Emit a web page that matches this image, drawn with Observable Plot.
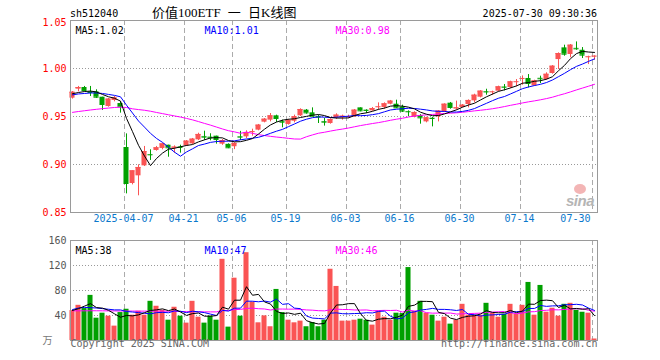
<!DOCTYPE html>
<html lang="zh-CN">
<head>
<meta charset="utf-8">
<script src="https://cdn.jsdelivr.net/npm/d3@7"></script>
<script src="https://cdn.jsdelivr.net/npm/@observablehq/plot@0.6"></script>
<style>
  html, body { margin: 0; padding: 0; background: #fff; }
  #chart { position: relative; width: 660px; height: 360px; overflow: hidden; background: #fff; }
  #chart svg { position: absolute; left: 0; }
  .lbl { position: absolute; white-space: pre; line-height: 1; z-index: 2; }
  .mono { font-family: "DejaVu Sans Mono", monospace; font-size: 10px; color: #000; }
</style>
</head>
<body>
<div id="chart"></div>
<script>
// ---------- data ----------
const stockCode = "sh512040";
const chartTitle = "价值100ETF 一 日K线图";
const stamp = "2025-07-30 09:30:36";

const openP = [0.9691,0.9785,0.9802,0.9757,0.9757,0.9701,0.9604,0.9667,0.9635,0.9177,
 0.8802,0.8882,0.8986,0.9104,0.9146,0.9167,0.9201,0.9170,0.9183,0.9194,
 0.9215,0.9257,0.9292,0.9285,0.9295,0.9212,0.9210,0.9185,0.9290,0.9288,
 0.9335,0.9358,0.9441,0.9462,0.9507,0.9448,0.9417,0.9451,0.9507,0.9566,
 0.9538,0.9500,0.9448,0.9427,0.9486,0.9486,0.9493,0.9497,0.9590,0.9566,
 0.9559,0.9597,0.9594,0.9628,0.9628,0.9600,0.9552,0.9493,0.9510,0.9444,
 0.9482,0.9497,0.9549,0.9639,0.9580,0.9594,0.9625,0.9663,0.9701,0.9760,
 0.9754,0.9764,0.9808,0.9802,0.9859,0.9893,0.9896,0.9819,0.9898,0.9885,
 0.9948,1.0093,1.0215,1.0146,1.0210,1.0190,1.0118,1.0124];
const closeP = [0.9753,0.9802,0.9771,0.9750,0.9701,0.9625,0.9681,0.9694,0.9601,0.8802,
 0.8934,0.8969,0.9135,0.9101,0.9174,0.9215,0.9174,0.9181,0.9178,0.9243,
 0.9264,0.9313,0.9285,0.9278,0.9260,0.9250,0.9174,0.9220,0.9285,0.9330,
 0.9342,0.9410,0.9472,0.9507,0.9479,0.9441,0.9458,0.9497,0.9573,0.9538,
 0.9503,0.9493,0.9441,0.9469,0.9514,0.9503,0.9500,0.9566,0.9559,0.9563,
 0.9583,0.9601,0.9632,0.9660,0.9590,0.9556,0.9549,0.9542,0.9486,0.9486,
 0.9479,0.9556,0.9628,0.9594,0.9590,0.9618,0.9667,0.9722,0.9764,0.9756,
 0.9757,0.9809,0.9805,0.9861,0.9862,0.9896,0.9844,0.9871,0.9893,0.9940,
 1.0024,1.0156,1.0149,1.0243,1.0205,1.0139,1.0122,1.0128];
const highP = [0.9760,0.9813,0.9813,0.9813,0.9778,0.9701,0.9688,0.9708,0.9653,0.9319,
 0.8934,0.8997,0.9188,0.9153,0.9188,0.9222,0.9201,0.9194,0.9201,0.9250,
 0.9271,0.9326,0.9347,0.9320,0.9295,0.9260,0.9215,0.9226,0.9345,0.9351,
 0.9368,0.9417,0.9479,0.9531,0.9514,0.9462,0.9469,0.9514,0.9580,0.9573,
 0.9590,0.9514,0.9480,0.9476,0.9528,0.9514,0.9514,0.9573,0.9590,0.9570,
 0.9594,0.9642,0.9642,0.9667,0.9670,0.9618,0.9559,0.9549,0.9520,0.9493,
 0.9490,0.9562,0.9632,0.9646,0.9660,0.9625,0.9673,0.9732,0.9770,0.9784,
 0.9764,0.9816,0.9833,0.9868,0.9885,0.9923,0.9937,0.9878,0.9920,0.9955,
 1.0030,1.0163,1.0243,1.0250,1.0277,1.0218,1.0128,1.0132];
const lowP = [0.9681,0.9757,0.9757,0.9708,0.9688,0.9563,0.9597,0.9653,0.9535,0.8694,
 0.8788,0.8674,0.8979,0.9042,0.9139,0.9153,0.9076,0.9118,0.9118,0.9188,
 0.9208,0.9250,0.9250,0.9247,0.9212,0.9200,0.9165,0.9155,0.9250,0.9270,
 0.9295,0.9351,0.9434,0.9444,0.9438,0.9382,0.9410,0.9434,0.9500,0.9524,
 0.9497,0.9427,0.9400,0.9420,0.9469,0.9462,0.9479,0.9490,0.9549,0.9531,
 0.9556,0.9566,0.9576,0.9622,0.9583,0.9542,0.9497,0.9486,0.9420,0.9434,
 0.9392,0.9444,0.9542,0.9576,0.9566,0.9590,0.9590,0.9642,0.9694,0.9722,
 0.9722,0.9757,0.9767,0.9791,0.9809,0.9826,0.9798,0.9816,0.9843,0.9878,
 0.9941,0.9989,1.0128,1.0111,1.0190,1.0104,1.0041,1.0087];
// volume in 万
const volume = [47.9,56.3,51.1,72.2,35.7,43.7,38.9,23.0,44.7,50.0,
 40.5,46.8,40.5,62.7,54.8,48.4,32.5,53.2,38.9,27.8,
 62.7,37.3,27.8,38.9,32.5,129.9,21.4,99.7,38.9,140.5,
 61.6,28.3,39.4,22.0,81.7,44.7,32.5,28.3,31.0,22.0,
 28.8,22.0,32.5,114.0,86.5,31.0,31.0,32.5,34.1,32.5,
 24.6,46.8,37.3,32.5,43.7,43.1,116.7,46.8,62.7,43.7,
 40.5,31.0,37.3,26.2,32.5,57.9,40.5,40.5,40.5,59.5,
 43.7,37.3,42.0,57.9,42.0,56.3,92.9,40.5,88.1,45.2,
 51.6,38.9,57.9,59.5,48.4,45.2,43.7,2.4];

// moving-average values at the left edge (windows reach before the first visible day)
const ma5Head = [0.9737,0.9750,0.9760,0.9765];
const ma10Head = [0.9725,0.9735,0.9740,0.9745,0.9745,0.9740,0.9730,0.9720,0.9705];
const ma30Head = [0.9543,0.9552,0.9560,0.9568,0.9575,0.9582,0.9588,0.9594,0.9597,0.9594,
 0.9580,0.9572,0.9565,0.9555,0.9542,0.9530,0.9518,0.9506,0.9494,0.9480,
 0.9465,0.9447,0.9428,0.9410,0.9390,0.9370,0.9352,0.9340,0.9325];
const vma5Head = [48,51,55,59];
const vma10Head = [49.5,52,53,52.5,52,51,50,49,49];
const vma30Head = [47.5,47.5,47.5,47.6,47.6,47.5,47.4,47.3,47.2,47.2,
 47.1,47,47,47,47,47,46.8,46.6,46.4,46.2,
 46,46,45.8,45.8,45.8,48,48,49.5,49.8];

const tickIndex = [9,19,27,36,46,55,65,75,87];
const tickLabels = ["2025-04-07","04-21","05-06","05-19","06-03","06-16","06-30","07-14","07-30"];
const priceTicks = [1.05,1.00,0.95,0.90,0.85];
const priceGrid = [1.00,0.95,0.90];
const volTicks = [160,120,80,40];
const volGrid = [120,80,40];
const volUnit = "万";
const priceLegend = ["MA5:1.02","MA10:1.01","MA30:0.98"];
const volLegend = ["MA5:38","MA10:47","MA30:46"];
const copyright = "Copyright 2025 SINA.COM";
const siteUrl = "http://finance.sina.com.cn";

// ---------- styling ----------
const RED = "#fa5454", GREEN = "#00a000";
const maColors = ["#000000","#0000ff","#ff00ff"];
const legendDx = [5,134,265];
const MONO = "DejaVu Sans Mono, monospace";

function movingAvg(values, k, head) {
  return values.map((v, i) => i < head.length ? head[i] : d3.mean(values.slice(i - k + 1, i + 1)));
}
const days = openP.map((o, i) => ({
  i, o, c: closeP[i], h: highP[i], l: lowP[i], v: volume[i],
  col: closeP[i] >= o ? RED : GREEN
}));
const toSeries = arr => arr.map((v, i) => ({i, v}));
const priceMA = [movingAvg(closeP,5,ma5Head), movingAvg(closeP,10,ma10Head), movingAvg(closeP,30,ma30Head)].map(toSeries);
const volMA = [movingAvg(volume,5,vma5Head), movingAvg(volume,10,vma10Head), movingAvg(volume,30,vma30Head)].map(toSeries);

const common = {
  width: 660, marginLeft: 70, marginRight: 63,
  x: {domain: [-1/3, 87.5], axis: null},
  color: {type: "identity"},
  style: {fontFamily: MONO, fontSize: "10px", background: "transparent", overflow: "visible"}
};
const gridDash = {stroke: "#aaaaaa", strokeDasharray: "5,3", strokeWidth: 1};
const gridDot = {stroke: "#999999", strokeDasharray: "1,2", strokeWidth: 1};
const maLines = series => [2,1,0].map(k => Plot.line(series[k], {x: "i", y: "v", stroke: maColors[k], strokeWidth: 1}));
const legendMarks = labels => labels.map((t, j) => Plot.text([t], {
  text: d => d, frameAnchor: "top-left", textAnchor: "start", dx: legendDx[j], dy: 6.5,
  fill: maColors[j], fontFamily: MONO, fontSize: 10
}));

const price = Plot.plot({
  ...common, height: 232, marginTop: 20, marginBottom: 20,
  y: {domain: [0.85, 1.05], axis: null},
  marks: [
    Plot.ruleY(priceGrid, {y: d => d, ...gridDot}),
    Plot.ruleX(tickIndex, {x: d => d - 0.33, ...gridDash}),
    Plot.ruleX(days, {x: "i", y1: "l", y2: "h", stroke: "col", strokeWidth: 1}),
    Plot.rect(days, {x1: d => d.i - 0.42, x2: d => d.i + 0.42, y1: "o", y2: "c", fill: "col"}),
    Plot.ruleY(days, {y: "c", x1: d => d.i - 0.42, x2: d => d.i + 0.42, stroke: "col", strokeWidth: 1}),
    ...maLines(priceMA),
    Plot.frame({stroke: "#9a9a9a", strokeWidth: 1}),
    Plot.text([priceTicks[0]], {y: d => d, text: d => d.toFixed(2), frameAnchor: "left", textAnchor: "end", dx: -4, dy: 2, fill: "#ff0000"}),
    Plot.text(priceTicks.slice(1), {y: d => d, text: d => d.toFixed(2), frameAnchor: "left", textAnchor: "end", dx: -4, fill: "#ff0000"}),
    Plot.text(tickIndex.slice(0, -1), {x: d => d - 0.5, text: (d, j) => tickLabels[j], frameAnchor: "bottom", dy: 9, fill: "#0a78cc"}),
    Plot.text(tickIndex.slice(-1), {x: d => d - 0.67, text: () => tickLabels[tickLabels.length - 1], frameAnchor: "bottom", textAnchor: "end", dy: 9, fill: "#0a78cc"}),
    ...legendMarks(priceLegend)
  ]
});

const vol = Plot.plot({
  ...common, height: 128, marginTop: 8, marginBottom: 20,
  y: {domain: [0, 160], axis: null},
  marks: [
    Plot.ruleY(volGrid, {y: d => d, ...gridDot}),
    Plot.ruleX(tickIndex, {x: d => d - 0.33, ...gridDash}),
    Plot.rect(days, {x1: d => d.i - 0.42, x2: d => d.i + 0.42, y1: 0, y2: "v", fill: "col"}),
    ...maLines(volMA),
    Plot.frame({stroke: "#9a9a9a", strokeWidth: 1}),
    Plot.text(volTicks, {y: d => d, text: d => String(d), frameAnchor: "left", textAnchor: "end", dx: -4, fill: "#555"}),
    Plot.text([volUnit], {text: d => d, frameAnchor: "bottom-left", textAnchor: "end", dx: -18, dy: 3, fill: "#777", fontFamily: "Noto Sans CJK SC", fontSize: 10}),
    ...legendMarks(volLegend),
    Plot.text([copyright], {text: d => d, frameAnchor: "bottom-left", textAnchor: "start", dy: 6, fill: "#666"}),
    Plot.text([siteUrl], {text: d => d, frameAnchor: "bottom-right", textAnchor: "end", dy: 6, fill: "#666"})
  ]
});

const root = document.getElementById("chart");
price.style.top = "0px";
vol.style.top = "232px";
root.append(price, vol);

function addLabel(text, css, cls) {
  const el = document.createElement("div");
  el.className = "lbl " + (cls || "");
  el.textContent = text;
  Object.assign(el.style, css);
  root.appendChild(el);
  return el;
}
addLabel(stockCode, {left: "70px", top: "9px"}, "mono");
addLabel(chartTitle, {left: "152px", top: "6px", fontFamily: "'Liberation Serif','Noto Sans CJK SC',serif", fontSize: "13px", wordSpacing: "4px", color: "#000"});
addLabel(stamp, {right: "63px", top: "9px"}, "mono");
// sina watermark
addLabel("", {left: "574px", top: "184px", width: "12px", height: "10px", borderRadius: "50%", background: "#f3b5b5"});
addLabel("sina", {left: "566px", top: "193px", fontFamily: "'Liberation Sans',sans-serif", fontStyle: "italic", fontWeight: "bold", fontSize: "15px", color: "#b5b5b5", letterSpacing: "-0.5px"});
</script>
</body>
</html>
